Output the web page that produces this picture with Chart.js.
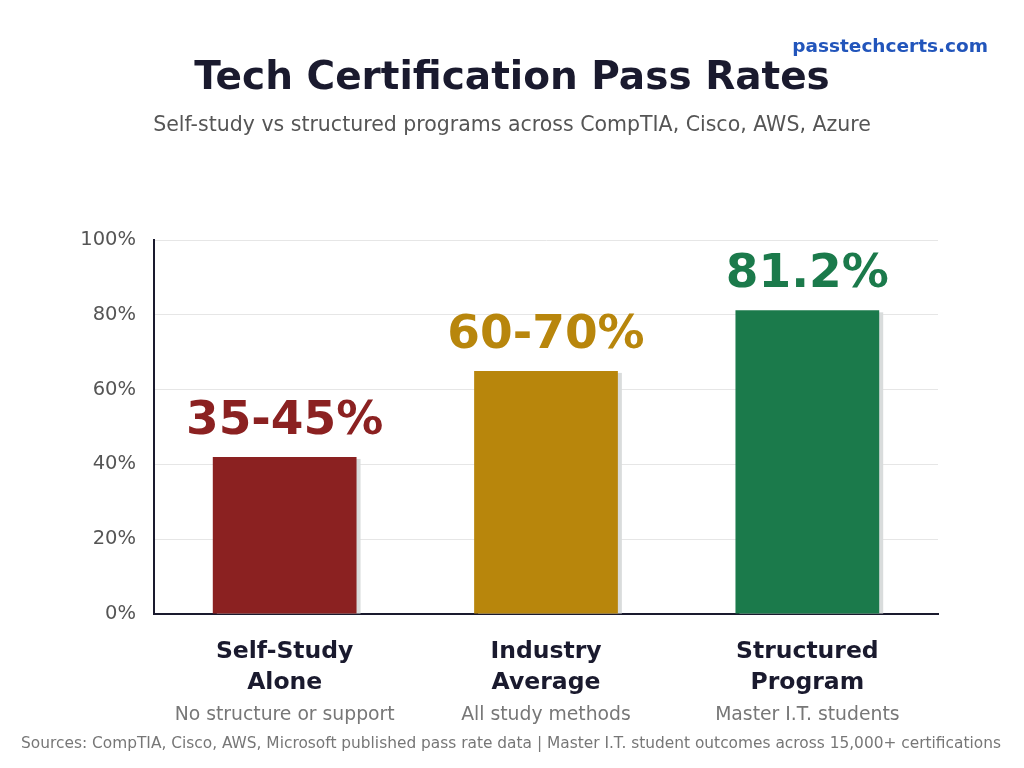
<!DOCTYPE html>
<html>
<head>
<meta charset="utf-8">
<title>Tech Certification Pass Rates</title>
<script src="https://cdn.jsdelivr.net/npm/chart.js@4/dist/chart.umd.min.js"></script>
<style>
    html, body { margin: 0; padding: 0; background: #ffffff; }
    #wrap { width: 1024px; height: 768px; position: relative; }
</style>
</head>
<body>
<div id="wrap"><canvas id="passChart"></canvas></div>
<script>
// chart data
const categories = [["Self-Study", "Alone"], ["Industry", "Average"], ["Structured", "Program"]];
const subLabels = ["No structure or support", "All study methods", "Master I.T. students"];
const passRates = [42, 65, 81.2];
const rateLabels = ["35-45%", "60-70%", "81.2%"];
const barColors = ["#8b2121", "#b8860c", "#1b7a4b"];
const yTicks = [0, 20, 40, 60, 80, 100];

const FONT = "'DejaVu Sans', sans-serif";

// titles, sub labels, value labels and footer
const extrasPlugin = {
    id: "extras",
    beforeDatasetsDraw(chart) {
        // soft shadow to the right of each bar
        const ctx = chart.ctx;
        const meta = chart.getDatasetMeta(0);
        ctx.save();
        ctx.fillStyle = "#d9dcdc";
        meta.data.forEach(function (bar) {
            const w = bar.width;
            ctx.fillRect(bar.x - w / 2 + 4, bar.y + 2, w, bar.base - bar.y - 2);
        });
        ctx.restore();
    },
    afterDraw(chart) {
        const ctx = chart.ctx;
        const meta = chart.getDatasetMeta(0);
        ctx.save();

        ctx.textAlign = "center";
        ctx.textBaseline = "alphabetic";
        ctx.fillStyle = "#1a1a2e";
        ctx.font = "bold 39px " + FONT;
        ctx.fillText("Tech Certification Pass Rates", 512, 89);

        ctx.fillStyle = "#555555";
        ctx.font = "20.5px " + FONT;
        ctx.fillText("Self-study vs structured programs across CompTIA, Cisco, AWS, Azure", 512, 131);

        ctx.textAlign = "right";
        ctx.fillStyle = "#2255bb";
        ctx.font = "bold 18.5px " + FONT;
        ctx.fillText("passtechcerts.com", 988, 52);

        // value labels above bars
        ctx.textAlign = "center";
        ctx.font = "bold 47px " + FONT;
        meta.data.forEach(function (bar, i) {
            ctx.fillStyle = barColors[i];
            ctx.fillText(rateLabels[i], bar.x, bar.y - 23);
        });

        // grey sub labels
        ctx.fillStyle = "#777777";
        ctx.font = "18.8px " + FONT;
        meta.data.forEach(function (bar, i) {
            ctx.fillText(subLabels[i], bar.x, 720);
        });

        ctx.font = "15.4px " + FONT;
        ctx.fillText("Sources: CompTIA, Cisco, AWS, Microsoft published pass rate data | Master I.T. student outcomes across 15,000+ certifications", 511, 748);

        ctx.restore();
    }
};

const canvas = document.getElementById("passChart");
if (canvas) {
    new Chart(canvas.getContext("2d"), {
        type: "bar",
        data: {
            labels: categories,
            datasets: [{
                label: "Pass rate",
                data: passRates,
                backgroundColor: barColors,
                borderWidth: 0,
                categoryPercentage: 1,
                barPercentage: 0.55
            }]
        },
        options: {
            responsive: true,
            maintainAspectRatio: false,
            animation: false,
            layout: { padding: { top: 240, right: 86, left: 0, bottom: 0 } },
            plugins: {
                legend: { display: false },
                tooltip: { enabled: false },
                title: { display: false }
            },
            scales: {
                x: {
                    afterFit(scale) { scale.height = 154; },
                    grid: { display: false, drawTicks: false },
                    border: { display: true, color: "#1a1a2e", width: 2 },
                    ticks: {
                        padding: 22,
                        color: "#1a1a2e",
                        font: { family: FONT, size: 23.5, weight: "bold", lineHeight: 1.32 }
                    }
                },
                y: {
                    min: 0,
                    max: 100,
                    afterFit(scale) { scale.width = 154; },
                    afterBuildTicks(scale) {
                        scale.ticks = yTicks.map(function (v) { return { value: v }; });
                    },
                    grid: { color: "#e6e6e6", lineWidth: 1, drawTicks: false },
                    border: { display: true, color: "#1a1a2e", width: 2 },
                    ticks: {
                        padding: 18,
                        color: "#555555",
                        font: { family: FONT, size: 19.5 },
                        callback: function (v) { return v + "%"; }
                    }
                }
            }
        },
        plugins: [extrasPlugin]
    });
} else {
    console.error("Canvas element #passChart not found!");
}
</script>
</body>
</html>
